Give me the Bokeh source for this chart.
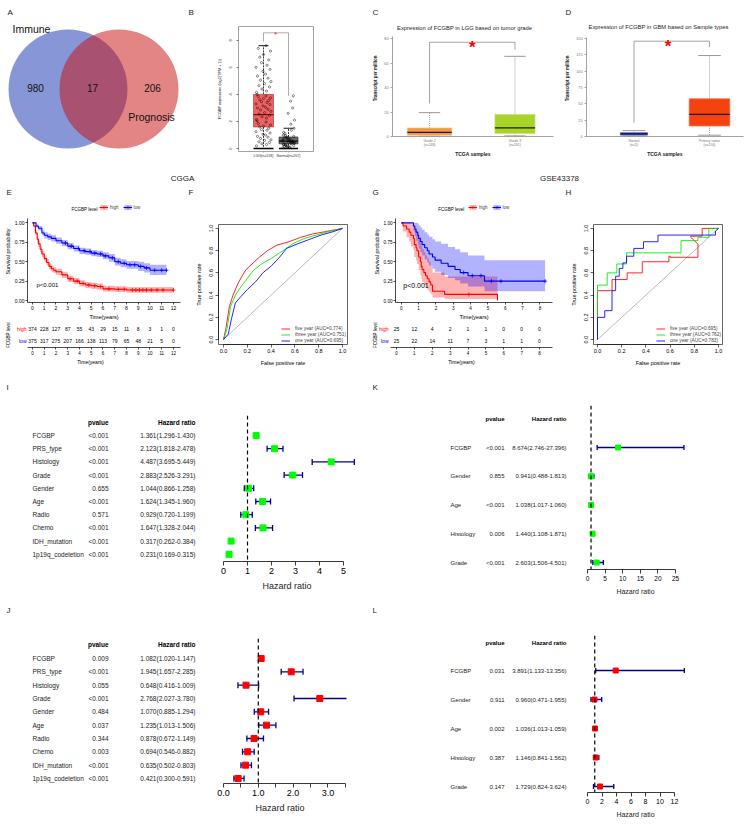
import numpy as np
from bokeh.plotting import figure
from bokeh.layouts import row, column
from bokeh.models import Range1d, Span, Legend, LegendItem, FixedTicker, NumeralTickFormatter
from bokeh.embed import file_html
from bokeh.resources import INLINE
from bokeh.core.properties import value

FONT = "Liberation Sans"
TF = value(FONT)

# ---------------- DATA ----------------
venn_names = ["Immune", "Prognosis"]
venn_counts = [980, 17, 206]

b_groups = ["LGG(n=518)", "Normal(n=207)"]
b_min = [0.0, 0.0]
b_q1 = [1.6, 0.35]
b_med = [2.5, 0.55]
b_q3 = [4.0, 0.85]
b_max = [7.6, 1.5]
b_lgg_pts = [0.2, 0.3, 0.35, 0.45, 0.5, 0.6, 0.65, 0.75, 0.85, 0.9, 1.0, 1.05, 1.15, 1.25, 1.35, 1.4,
             1.5, 1.6, 1.65, 1.75, 1.85, 1.95, 2.05, 2.15, 2.25, 2.35, 2.45, 2.55, 2.65, 2.75, 2.85,
             2.9, 3.0, 3.05, 3.15, 3.25, 3.3, 3.4, 3.45, 3.55, 3.6, 3.7, 3.75, 3.85, 3.9, 4.0, 4.15,
             4.25, 4.4, 4.55, 4.65, 4.8, 4.95, 5.05, 5.2, 5.35, 5.5, 5.7, 5.85, 6.0, 6.15, 6.35, 6.55,
             6.75, 6.95, 7.2, 7.4, 7.6]
b_norm_pts = [0.05, 0.08, 0.1, 0.12, 0.15, 0.18, 0.2, 0.22, 0.25, 0.28, 0.3, 0.32, 0.35, 0.38, 0.4,
              0.42, 0.45, 0.48, 0.5, 0.52, 0.55, 0.58, 0.6, 0.63, 0.66, 0.7, 0.74, 0.78, 0.82, 0.86,
              0.9, 0.95, 1.0, 1.1, 1.2, 1.35, 1.5, 1.8, 2.1, 2.6, 3.0, 3.5, 3.9]

c_title = "Expression of FCGBP in LGG based on tumor grade"
c_groups = ["Grade 2\n(n=248)", "Grade 3\n(n=261)"]
c_min = [0.3, 0.5]
c_q1 = [1.0, 2.5]
c_med = [3.3, 7.0]
c_q3 = [7.0, 18.0]
c_max = [19.5, 65.5]

d_title = "Expression of FCGBP in GBM based on Sample types"
d_groups = ["Normal\n(n=5)", "Primary tumor\n(n=156)"]
d_min = [0.5, 2.0]
d_q1 = [2.0, 16.0]
d_med = [4.0, 34.0]
d_q3 = [6.0, 58.0]
d_max = [9.0, 124.0]

e_high_t = [0, 0.1, 0.25, 0.4, 0.5, 0.65, 0.8, 1.0, 1.2, 1.4, 1.6, 1.8, 2.0, 2.5, 3.0, 3.5, 4.0, 4.5, 5.0, 5.5, 6.0, 7.0, 8.0, 12.0]
e_high_s = [1.0, 0.96, 0.87, 0.79, 0.73, 0.66, 0.6, 0.54, 0.49, 0.44, 0.41, 0.39, 0.37, 0.33, 0.28, 0.25, 0.22, 0.2, 0.19, 0.18, 0.15, 0.145, 0.135, 0.135]
e_high_up = [1.0, 0.98, 0.9, 0.83, 0.77, 0.7, 0.64, 0.58, 0.53, 0.48, 0.45, 0.43, 0.41, 0.37, 0.32, 0.29, 0.26, 0.24, 0.23, 0.22, 0.19, 0.185, 0.175, 0.175]
e_high_lo = [1.0, 0.94, 0.84, 0.75, 0.69, 0.62, 0.56, 0.5, 0.45, 0.4, 0.37, 0.35, 0.33, 0.29, 0.24, 0.21, 0.18, 0.16, 0.15, 0.14, 0.115, 0.11, 0.1, 0.1]
e_high_ct = [3.2, 3.8, 4.3, 4.8, 5.3, 5.8, 6.5, 7.3, 7.8, 8.5, 8.8, 9.1, 9.4, 9.7, 10.1, 10.6, 11.1, 12.0]
e_high_cs = [0.28, 0.25, 0.22, 0.2, 0.19, 0.18, 0.15, 0.145, 0.145, 0.135, 0.135, 0.135, 0.135, 0.135, 0.135, 0.135, 0.135, 0.135]
e_low_t = [0, 0.3, 0.5, 0.8, 1.0, 1.3, 1.6, 2.0, 2.5, 3.0, 3.5, 4.0, 4.5, 5.0, 5.5, 6.0, 6.5, 7.0, 7.5, 8.0, 9.0, 9.5, 10.0, 11.4]
e_low_s = [1.0, 0.96, 0.93, 0.87, 0.84, 0.82, 0.8, 0.77, 0.74, 0.7, 0.67, 0.64, 0.63, 0.61, 0.6, 0.575, 0.55, 0.5, 0.48, 0.46, 0.44, 0.42, 0.39, 0.39]
e_low_up = [1.0, 0.98, 0.96, 0.9, 0.88, 0.86, 0.84, 0.81, 0.78, 0.74, 0.71, 0.68, 0.67, 0.65, 0.64, 0.62, 0.6, 0.55, 0.53, 0.51, 0.5, 0.48, 0.46, 0.46]
e_low_lo = [1.0, 0.94, 0.9, 0.84, 0.8, 0.78, 0.76, 0.73, 0.7, 0.66, 0.63, 0.6, 0.59, 0.57, 0.56, 0.53, 0.5, 0.45, 0.43, 0.41, 0.38, 0.36, 0.33, 0.33]
e_low_ct = [2.8, 3.3, 3.9, 4.4, 4.9, 5.3, 5.8, 6.2, 6.8, 7.3, 7.8, 8.3, 8.7, 9.2, 9.7, 10.4, 11.0, 11.4]
e_low_cs = [0.74, 0.7, 0.67, 0.64, 0.63, 0.61, 0.6, 0.575, 0.55, 0.5, 0.48, 0.46, 0.46, 0.44, 0.42, 0.39, 0.39, 0.39]
e_risk_t = [0, 1, 2, 3, 4, 5, 6, 7, 8, 9, 10, 11, 12]
e_risk_high = [374, 228, 127, 87, 55, 43, 29, 15, 11, 8, 3, 1, 0]
e_risk_low = [375, 317, 275, 207, 166, 138, 113, 79, 65, 48, 21, 5, 0]

f_five_fpr = [0, 0.02, 0.05, 0.08, 0.12, 0.16, 0.19, 0.25, 0.3, 0.37, 0.45, 0.55, 0.65, 0.75, 0.85, 1.0]
f_five_tpr = [0, 0.1, 0.3, 0.4, 0.5, 0.58, 0.63, 0.69, 0.74, 0.8, 0.85, 0.88, 0.92, 0.95, 0.97, 1.0]
f_three_fpr = [0, 0.03, 0.06, 0.1, 0.15, 0.2, 0.25, 0.32, 0.4, 0.5, 0.58, 0.68, 0.78, 0.88, 1.0]
f_three_tpr = [0, 0.1, 0.3, 0.4, 0.48, 0.55, 0.62, 0.68, 0.73, 0.8, 0.86, 0.91, 0.94, 0.97, 1.0]
f_one_fpr = [0, 0.04, 0.07, 0.1, 0.14, 0.2, 0.27, 0.33, 0.4, 0.47, 0.53, 0.62, 0.72, 0.82, 0.92, 1.0]
f_one_tpr = [0, 0.05, 0.2, 0.33, 0.38, 0.45, 0.52, 0.6, 0.66, 0.74, 0.82, 0.86, 0.9, 0.94, 0.97, 1.0]
f_labels = ["five year (AUC=0.774)", "three year (AUC=0.751)", "one year (AUC=0.695)"]

g_high_t = [0, 0.1, 0.3, 0.45, 0.55, 0.7, 0.75, 0.85, 0.9, 1.0, 1.1, 1.15, 1.2, 1.3, 1.4, 1.5, 1.6, 1.7, 1.8, 2.5, 5.55]
g_high_s = [1.0, 0.96, 0.92, 0.88, 0.84, 0.8, 0.72, 0.68, 0.64, 0.56, 0.5, 0.44, 0.4, 0.36, 0.32, 0.28, 0.24, 0.2, 0.12, 0.08, 0.0]
g_high_up = [1.0, 1.0, 1.0, 1.0, 0.99, 0.97, 0.92, 0.89, 0.86, 0.8, 0.75, 0.7, 0.66, 0.62, 0.58, 0.54, 0.5, 0.45, 0.36, 0.31, 0.31]
g_high_lo = [1.0, 0.89, 0.81, 0.76, 0.7, 0.65, 0.56, 0.52, 0.47, 0.39, 0.33, 0.28, 0.24, 0.2, 0.17, 0.14, 0.11, 0.08, 0.04, 0.02, 0.0]
g_high_ct = [3.9]
g_high_cs = [0.08]
g_low_t = [0, 0.7, 0.78, 0.85, 0.95, 1.0, 1.1, 1.2, 1.35, 1.5, 1.6, 1.8, 1.95, 2.3, 2.7, 3.1, 3.4, 3.85, 4.8, 8.3]
g_low_s = [1.0, 0.96, 0.92, 0.88, 0.84, 0.8, 0.76, 0.72, 0.68, 0.64, 0.6, 0.56, 0.52, 0.48, 0.44, 0.4, 0.36, 0.32, 0.25, 0.25]
g_low_up = [1.0, 1.0, 1.0, 1.0, 0.99, 0.97, 0.94, 0.91, 0.88, 0.85, 0.82, 0.79, 0.76, 0.73, 0.69, 0.66, 0.62, 0.58, 0.52, 0.52]
g_low_lo = [1.0, 0.89, 0.83, 0.77, 0.72, 0.67, 0.62, 0.58, 0.53, 0.49, 0.45, 0.41, 0.37, 0.33, 0.29, 0.26, 0.22, 0.18, 0.12, 0.12]
g_low_ct = [3.6, 4.1, 4.6, 5.2, 5.75, 8.3]
g_low_cs = [0.36, 0.32, 0.32, 0.25, 0.25, 0.25]
g_risk_t = [0, 1, 2, 3, 4, 5, 6, 7, 8]
g_risk_high = [25, 12, 4, 2, 1, 1, 0, 0, 0]
g_risk_low = [25, 22, 14, 11, 7, 3, 1, 1, 0]

h_five_fpr = [0, 0, 0.12, 0.12, 0.245, 0.245, 0.37, 0.37, 0.59, 0.59, 0.6, 0.6, 0.83, 0.83, 0.77, 0.77, 0.865, 0.865, 1.0]
h_five_tpr = [0, 0.44, 0.44, 0.54, 0.54, 0.6, 0.6, 0.7, 0.7, 0.75, 0.75, 0.74, 0.74, 0.86, 0.92, 0.93, 0.93, 1.0, 1.0]
h_three_fpr = [0, 0, 0.08, 0.08, 0.16, 0.16, 0.24, 0.24, 0.69, 0.69, 0.83, 0.83, 0.92, 0.92, 1.0]
h_three_tpr = [0, 0.49, 0.49, 0.6, 0.6, 0.68, 0.68, 0.78, 0.78, 0.89, 0.89, 0.92, 0.92, 1.0, 1.0]
h_one_fpr = [0, 0, 0.06, 0.06, 0.12, 0.12, 0.15, 0.15, 0.18, 0.18, 0.21, 0.21, 0.24, 0.24, 0.30, 0.30, 0.38, 0.38, 0.50, 0.50, 0.975, 0.975, 1.0]
h_one_tpr = [0, 0.2, 0.2, 0.26, 0.26, 0.44, 0.44, 0.57, 0.57, 0.64, 0.64, 0.69, 0.69, 0.75, 0.75, 0.82, 0.82, 0.88, 0.88, 0.94, 0.94, 0.976, 1.0]
h_labels = ["five year (AUC=0.695)", "three year (AUC=0.762)", "one year (AUC=0.783)"]

cgga_vars = ["FCGBP", "PRS_type", "Histology", "Grade", "Gender", "Age", "Radio", "Chemo", "IDH_mutation", "1p19q_codeletion"]
i_p = ["<0.001", "<0.001", "<0.001", "<0.001", "0.655", "<0.001", "0.571", "<0.001", "<0.001", "<0.001"]
i_hr = [1.361, 2.123, 4.487, 2.883, 1.044, 1.624, 0.929, 1.647, 0.317, 0.231]
i_lo = [1.296, 1.818, 3.695, 2.526, 0.866, 1.345, 0.720, 1.328, 0.262, 0.169]
i_hi = [1.430, 2.478, 5.449, 3.291, 1.258, 1.960, 1.199, 2.044, 0.384, 0.315]
j_p = ["0.009", "<0.001", "0.055", "<0.001", "0.484", "0.037", "0.344", "0.003", "<0.001", "<0.001"]
j_hr = [1.082, 1.945, 0.648, 2.768, 1.070, 1.235, 0.878, 0.694, 0.635, 0.421]
j_lo = [1.020, 1.657, 0.416, 2.027, 0.885, 1.013, 0.672, 0.546, 0.502, 0.300]
j_hi = [1.147, 2.285, 1.009, 3.780, 1.294, 1.506, 1.149, 0.882, 0.803, 0.591]

gse_vars = ["FCGBP", "Gender", "Age", "Histology", "Grade"]
k_p = ["<0.001", "0.855", "<0.001", "0.006", "<0.001"]
k_hr = [8.674, 0.941, 1.038, 1.440, 2.603]
k_lo = [2.746, 0.488, 1.017, 1.108, 1.506]
k_hi = [27.396, 1.813, 1.060, 1.871, 4.501]
l_p = ["0.031", "0.911", "0.002", "0.387", "0.147"]
l_hr = [3.891, 0.960, 1.036, 1.146, 1.729]
l_lo = [1.133, 0.471, 1.013, 0.841, 0.824]
l_hi = [13.356, 1.955, 1.059, 1.562, 3.624]


# ---------------- HELPERS ----------------
class Cell:
    """A figure occupying a page rectangle (page pixel coordinates)."""
    def __init__(self, x0, y0, w, h, l, r, t, b, xr, yr, xaxis=None, yaxis=None):
        self.x0, self.y0, self.w, self.h = x0, y0, w, h
        self.l, self.r, self.t, self.b = l, r, t, b
        self.xr = xr if isinstance(xr, Range1d) else Range1d(start=xr[0], end=xr[1])
        self.yr = yr if isinstance(yr, Range1d) else Range1d(start=yr[0], end=yr[1])
        p = figure(width=w, height=h, x_range=self.xr, y_range=self.yr, title=None,
                   output_backend="svg", toolbar_location=None,
                   min_border_left=l, min_border_right=r, min_border_top=t, min_border_bottom=b,
                   x_axis_location=xaxis, y_axis_location=yaxis)
        p.outline_line_color = None
        p.grid.visible = False
        p.background_fill_color = "white"
        p.border_fill_color = "white"
        self.p = p

    def data(self, X, Y):
        fl = self.x0 + self.l
        fr = self.x0 + self.w - self.r
        ft = self.y0 + self.t
        fb = self.y0 + self.h - self.b
        xs, xe = self.xr.start, self.xr.end
        ys, ye = self.yr.start, self.yr.end
        return xs + (X - fl) / (fr - fl) * (xe - xs), ys + (fb - Y) / (fb - ft) * (ye - ys)

    def text(self, texts, XY, size, color="black", align="left", base="middle", style="normal", angle=0.0):
        xs, ys = [], []
        for X, Y in XY:
            x, y = self.data(X, Y)
            xs.append(x)
            ys.append(y)
        self.p.text(x=xs, y=ys, text=texts, text_font=TF, text_font_size=f"{size}px", text_color=color,
                    text_align=align, text_baseline=base, text_font_style=style, angle=angle)


def W(c):
    return column(c.p)


def axstyle(ax, size, color="black", line="black", tick_out=3, standoff=2, label=None, lsize=6,
            lstandoff=3, lstyle="normal", lcolor="black", lw=0.8):
    ax.major_label_text_font = FONT
    ax.major_label_text_font_size = f"{size}px"
    ax.major_label_text_color = color
    ax.axis_line_color = line
    ax.axis_line_width = lw
    ax.major_tick_line_color = line
    ax.major_tick_line_width = lw
    ax.major_tick_out = tick_out
    ax.major_tick_in = 0
    ax.minor_tick_line_color = None
    ax.major_label_standoff = standoff
    if label is not None:
        ax.axis_label = label
        ax.axis_label_text_font = FONT
        ax.axis_label_text_font_size = f"{lsize}px"
        ax.axis_label_text_font_style = lstyle
        ax.axis_label_text_color = lcolor
        ax.axis_label_standoff = lstandoff


def gepia_box(p, xs, mn, q1, med, q3, mx, widths, fills, lines, cap_w, whisk_col, whisk_dash, med_col):
    p.segment(x0=xs, y0=q3, x1=xs, y1=mx, line_color=whisk_col, line_dash=whisk_dash, line_width=0.8)
    p.segment(x0=xs, y0=q1, x1=xs, y1=mn, line_color=whisk_col, line_dash=whisk_dash, line_width=0.8)
    p.segment(x0=[x - cap_w / 2 for x in xs], y0=mx, x1=[x + cap_w / 2 for x in xs], y1=mx,
              line_color=whisk_col, line_width=0.9)
    p.segment(x0=[x - cap_w / 2 for x in xs], y0=mn, x1=[x + cap_w / 2 for x in xs], y1=mn,
              line_color=whisk_col, line_width=0.9)
    p.vbar(x=xs, bottom=q1, top=q3, width=widths, fill_color=fills, line_color=lines, line_width=0.7)
    p.segment(x0=[x - w / 2 for x, w in zip(xs, widths)], y0=med,
              x1=[x + w / 2 for x, w in zip(xs, widths)], y1=med, line_color=med_col, line_width=1.3)


# ---------------- HEADER 1 ----------------
H1 = Cell(0, 0, 750, 20, 0, 0, 0, 0, (0, 750), (20, 0))
H1.text(["A", "B", "C", "D"], [(7, 12), (188, 12), (372, 12), (565, 12)], 8, color="#222222")

# ---------------- ROW 1 ----------------
A = Cell(0, 20, 190, 140, 0, 0, 0, 0, (0, 190), (160, 20))
pA = A.p
pA.circle(x=[67.5], y=[88.5], radius=59.5, fill_color="#0f2dad", fill_alpha=0.5, line_color=None)
pA.circle(x=[118.5], y=[88.5], radius=59.5, fill_color="#c90b0b", fill_alpha=0.5, line_color=None)
pA.text(x=[35, 92, 152], y=[87, 87, 87], text=[str(v) for v in venn_counts], text_font=TF,
        text_font_size="10px", text_align="center", text_baseline="middle", text_color="#111111")
A.text([venn_names[0]], [(12, 28)], 10.5, color="#111111")
A.text([venn_names[1]], [(151, 116)], 10.5, color="#111111", align="center")

# B
B = Cell(190, 20, 180, 140, 48, 57, 6, 7, (0, 3), (-0.218, 9.018), xaxis="below", yaxis="left")
pB = B.p
pB.outline_line_color = "#8c8c8c"
pB.outline_line_width = 0.8
gepia_box(pB, [1, 2], b_min, b_q1, b_med, b_q3, b_max, [0.8, 0.76], ["#f06262", "#6a6a6a"],
          ["#b33c3c", "#333333"], 0.4, "black", "2 1", ["#7a1010", "#111111"])
pB.segment(x0=[0.6, 1.62], y0=b_min, x1=[1.4, 2.38], y1=b_min, line_color="black", line_width=1.4)
JIT = [-0.28, 0.12, -0.06, 0.24, -0.18, 0.04, 0.3, -0.12, 0.18, -0.24, 0.08, -0.02, 0.26, -0.3,
       0.14, -0.08, 0.21, -0.15, 0.0, 0.28, -0.21, 0.1, -0.26]
pB.scatter(x=[1 + JIT[i % len(JIT)] for i in range(len(b_lgg_pts))], y=b_lgg_pts, marker="circle",
           size=2.2, fill_alpha=0, line_color="black", line_width=0.45)
pB.scatter(x=[2 + 0.8 * JIT[(i * 5) % len(JIT)] for i in range(len(b_norm_pts))], y=b_norm_pts,
           marker="circle", size=2.2, fill_alpha=0, line_color="black", line_width=0.45)
pB.line(x=[1, 1, 2, 2], y=[7.9, 8.55, 8.55, 3.9], line_color="#777777", line_width=0.6)
pB.text(x=[1.48], y=[8.55], text=["*"], text_font=TF, text_font_size="7px", text_color="red",
        text_align="center", text_baseline="middle", y_offset=2)
axb = pB.xaxis[0]
axb.ticker = FixedTicker(ticks=[1, 2])
axb.major_label_overrides = {1: b_groups[0], 2: b_groups[1]}
axstyle(axb, 3.6, color="#333333", line="#8c8c8c", tick_out=1, standoff=1)
axb.axis_line_color = None
ayb = pB.yaxis[0]
ayb.ticker = FixedTicker(ticks=[0, 2, 4, 6, 8])
ayb.major_label_orientation = "vertical"
axstyle(ayb, 4, color="#333333", line="#555555", tick_out=2, standoff=4,
        label="FCGBP expression (log2(TPM + 1))", lsize=3.8, lstandoff=5)
ayb.axis_line_color = None

# C
C = Cell(370, 20, 185, 140, 20, 2, 0, 18, (0.5665, 2.4509), (0, 94.76), xaxis="below", yaxis="left")
pC = C.p
gepia_box(pC, [1, 2], c_min, c_q1, c_med, c_q3, c_max, [0.52, 0.47], ["#f39a3c", "#a8d42a"],
          ["#f6bd80", "#c6e27a"], 0.25, "#8c8c8c", "1 1", ["#1a1a1a", "#1a1a1a"])
pC.line(x=[1, 1, 2, 2], y=[27, 77, 77, 71], line_color="#8c8c8c", line_width=0.8)
pC.text(x=[1.5], y=[77], text=["*"], text_font=TF, text_font_size="17px", text_font_style="bold",
        text_color="red", text_align="center", text_baseline="middle", y_offset=5)
C.text([c_title], [(463, 28)], 5.8, color="#222222", align="center")
axc = pC.xaxis[0]
axc.ticker = FixedTicker(ticks=[1, 2])
axc.major_label_overrides = {1: c_groups[0], 2: c_groups[1]}
axstyle(axc, 3.4, color="#777777", line="#8c8c8c", tick_out=0, standoff=2,
        label="TCGA samples", lsize=5, lstandoff=1, lstyle="bold", lcolor="#222222")
ayc = pC.yaxis[0]
ayc.ticker = FixedTicker(ticks=[0, 20, 40, 60, 80])
ayc.bounds = (0, 82)
axstyle(ayc, 3.8, color="#777777", line="#8c8c8c", tick_out=2, standoff=2,
        label="Transcript per million", lsize=4.5, lstandoff=3, lstyle="bold", lcolor="#222222")

# D
D = Cell(555, 20, 195, 140, 31, 7, 0, 18, (0.3709, 2.4503), (0, 177.67), xaxis="below", yaxis="left")
pD = D.p
gepia_box(pD, [1, 2], d_min, d_q1, d_med, d_q3, d_max, [0.36, 0.54], ["#2a3fd8", "#f5430f"],
          ["#6f7fe6", "#f7805c"], 0.3, "#8c8c8c", "1 1", ["#1a1a1a", "#1a1a1a"])
pD.line(x=[1, 1, 2, 2], y=[21, 146, 146, 137], line_color="#8c8c8c", line_width=0.8)
pD.text(x=[1.45], y=[146], text=["*"], text_font=TF, text_font_size="17px", text_font_style="bold",
        text_color="red", text_align="center", text_baseline="middle", y_offset=5)
D.text([d_title], [(658, 27)], 5.8, color="#222222", align="center")
axd = pD.xaxis[0]
axd.ticker = FixedTicker(ticks=[1, 2])
axd.major_label_overrides = {1: d_groups[0], 2: d_groups[1]}
axstyle(axd, 3.4, color="#777777", line="#8c8c8c", tick_out=0, standoff=2,
        label="TCGA samples", lsize=5, lstandoff=1, lstyle="bold", lcolor="#222222")
ayd = pD.yaxis[0]
ayd.ticker = FixedTicker(ticks=[0, 25, 50, 75, 100, 125, 150])
ayd.bounds = (0, 152)
axstyle(ayd, 3.8, color="#777777", line="#8c8c8c", tick_out=2, standoff=2,
        label="Transcript per million", lsize=4.5, lstandoff=3, lstyle="bold", lcolor="#222222")

# ---------------- HEADER 2 ----------------
H2 = Cell(0, 160, 750, 40, 0, 0, 0, 0, (0, 750), (200, 160))
H2.text(["CGGA", "GSE43378"], [(182, 178), (559, 178)], 8, color="#222222", align="center")
H2.text(["E", "F", "G", "H"], [(6, 192), (188, 192), (372, 192), (565, 192)], 8, color="#222222")


# ---------------- ROW 2 ----------------
def km(c, curves, leg_xy, title_xy, pval_xy, pval_size, xticks, tsize):
    p = c.p
    items = []
    for t, s, up, lo, ct, cs, col, name in curves:
        band = p.varea_step(x=t, y1=lo, y2=up, step_mode="after", fill_color=col, fill_alpha=0.3)
        line = p.step(x=t, y=s, mode="after", line_color=col, line_width=1.1)
        cens = p.scatter(x=ct, y=cs, marker="cross", size=4, line_color=col, line_width=0.8)
        items.append(LegendItem(label=name, renderers=[band, line, cens]))
    fl = c.x0 + c.l
    fb = c.y0 + c.h - c.b
    leg = Legend(items=items, orientation="horizontal", location=(leg_xy[0] - fl, fb - leg_xy[1]),
                 label_text_font=FONT, label_text_font_size="4.5px", glyph_width=9, glyph_height=6,
                 label_standoff=2, spacing=4, padding=1, margin=0, border_line_color=None,
                 background_fill_alpha=0, label_height=6, label_width=8)
    p.add_layout(leg)
    c.text(["FCGBP level"], [title_xy], 4.5, align="right")
    c.text(["p<0.001"], [pval_xy], pval_size)
    ax = p.xaxis[0]
    ax.ticker = FixedTicker(ticks=xticks)
    axstyle(ax, tsize, tick_out=2, standoff=1, label="Time(years)", lsize=5.5, lstandoff=1, lw=0.7)
    ay = p.yaxis[0]
    ay.ticker = FixedTicker(ticks=[0, 0.25, 0.5, 0.75, 1.0])
    ay.formatter = NumeralTickFormatter(format="0.00")
    ay.bounds = (c.yr.start, 1.05)
    axstyle(ay, tsize, tick_out=2, standoff=1, label="Survival probability", lsize=5.5, lstandoff=1, lw=0.7)


def risk(c, times, high, low, hx, tx, xticks, bounds):
    p = c.p
    n = len(times)
    p.text(x=times, y=[0] * n, text=[str(v) for v in high], text_font=TF, text_font_size="5px",
           text_align="center", text_baseline="middle")
    p.text(x=times, y=[1] * n, text=[str(v) for v in low], text_font=TF, text_font_size="5px",
           text_align="center", text_baseline="middle")
    x0, _ = c.data(hx, 0)
    p.text(x=[x0, x0], y=[0, 1], text=["high", "low"], text_font=TF, text_font_size="5px",
           text_align="right", text_baseline="middle", text_color=["#ff0000", "#0000ff"])
    ax = p.xaxis[0]
    ax.ticker = FixedTicker(ticks=xticks)
    ax.bounds = bounds
    axstyle(ax, 4.5, tick_out=2, standoff=1, label="Time(years)", lsize=5, lstandoff=1, lw=0.7)
    fb = c.y0 + c.h - c.b
    ft = c.y0 + c.t
    c.text(["FCGBP level"], [(tx, (fb + ft) / 2)], 4.5, align="center", angle=np.pi / 2)


E = Cell(0, 200, 185, 122, 27, 5, 0, 17, (-0.4255, 12.596), (-0.025, 1.2875), xaxis="below", yaxis="left")
km(E, [(e_high_t, e_high_s, e_high_up, e_high_lo, e_high_ct, e_high_cs, "#ff0000", "high"),
       (e_low_t, e_low_s, e_low_up, e_low_lo, e_low_ct, e_low_cs, "#0000ff", "low")],
   (99, 213), (97, 209), (36, 287), 6, list(range(13)), 5)
Er = Cell(0, 322, 185, 46, 0, 5, 0, 21, (-2.7234, 12.596), (1.6, -0.6), xaxis="below", yaxis=None)
risk(Er, e_risk_t, e_risk_high, e_risk_low, 26, 8, list(range(13)), (-0.4255, 12.596))


def roc(c, curves, labels):
    p = c.p
    p.outline_line_color = "black"
    p.outline_line_width = 0.6
    p.line(x=[0, 1], y=[0, 1], line_color="#8a8a8a", line_width=0.6)
    items = []
    for (fx, ty, col), lab in zip(curves, labels):
        r = p.line(x=fx, y=ty, line_color=col, line_width=1, line_alpha=0.85)
        items.append(LegendItem(label=lab, renderers=[r]))
    leg = Legend(items=items, location="bottom_right", label_text_font=FONT, label_text_font_size="4.8px",
                 glyph_width=9, glyph_height=5, label_standoff=5, spacing=1, padding=2, margin=1,
                 border_line_color=None, background_fill_alpha=0, label_height=5)
    p.add_layout(leg)
    ax = p.xaxis[0]
    ax.ticker = FixedTicker(ticks=[0, 0.2, 0.4, 0.6, 0.8, 1.0])
    ax.formatter = NumeralTickFormatter(format="0.0")
    ax.bounds = (0, 1)
    axstyle(ax, 5.5, tick_out=3, standoff=1, label="False positive rate", lsize=5.5, lstandoff=4, lw=0.6)
    ay = p.yaxis[0]
    ay.ticker = FixedTicker(ticks=[0, 0.2, 0.4, 0.6, 0.8, 1.0])
    ay.formatter = NumeralTickFormatter(format="0.0")
    ay.bounds = (0, 1)
    ay.major_label_orientation = "vertical"
    axstyle(ay, 5.5, tick_out=3, standoff=2, label="True positive rate", lsize=5.5, lstandoff=5, lw=0.6)


F = Cell(185, 200, 185, 168, 33, 23, 24, 21, (-0.042, 1.042), (-0.044, 1.035), xaxis="below", yaxis="left")
roc(F, [(f_five_fpr, f_five_tpr, "#ff0000"), (f_three_fpr, f_three_tpr, "#00e600"),
        (f_one_fpr, f_one_tpr, "#0000ff")], f_labels)

G = Cell(370, 200, 185, 122, 20, 3, 0, 17, (-0.3357, 8.727), (-0.025, 1.2875), xaxis="below", yaxis="left")
km(G, [(g_high_t, g_high_s, g_high_up, g_high_lo, g_high_ct, g_high_cs, "#ff0000", "high"),
       (g_low_t, g_low_s, g_low_up, g_low_lo, g_low_ct, g_low_cs, "#0000ff", "low")],
   (463, 213), (461, 209), (398, 287), 7, list(range(9)), 4.6)
Gr = Cell(370, 322, 185, 46, 0, 3, 0, 21, (-1.4545, 8.727), (1.6, -0.6), xaxis="below", yaxis=None)
risk(Gr, g_risk_t, g_risk_high, g_risk_low, 388, 375, list(range(9)), (-0.3357, 8.727))

H = Cell(555, 200, 195, 168, 38, 28, 24, 21, (-0.033, 1.033), (-0.044, 1.035), xaxis="below", yaxis="left")
roc(H, [(h_five_fpr, h_five_tpr, "#ff0000"), (h_three_fpr, h_three_tpr, "#00e600"),
        (h_one_fpr, h_one_tpr, "#0000ff")], h_labels)


# ---------------- FORESTS ----------------
def forest(x0, y0, wt, wp, h, t, b, lp, rp, row0, dy, names, pv, hr, lo, hi, col, xr, ticks, bounds,
           tsize, lsize, letter, LX, LY, nx, px, hx, hy, fsize, sq, cap, fmt=None, overrides=None):
    fb = y0 + h - b
    T = Cell(x0, y0, wt, h, 0, 0, 0, 0, (x0, x0 + wt), ((y0 + h - row0) / dy, (y0 - row0) / dy))
    P = Cell(x0 + wt, y0, wp, h, lp, rp, t, b, xr, ((fb - row0) / dy, (y0 + t - row0) / dy), xaxis="below")
    n = len(names)
    idx = list(range(n))
    tp = T.p
    tp.text(x=[nx] * n, y=idx, text=names, text_font=TF, text_font_size=f"{fsize}px",
            text_align="left", text_baseline="middle", text_color="#222222")
    tp.text(x=[px] * n, y=idx, text=pv, text_font=TF, text_font_size=f"{fsize}px",
            text_align="right", text_baseline="middle", text_color="#222222")
    tp.text(x=[hx] * n, y=idx, text=[f"{a:.3f}({l_:.3f}-{u:.3f})" for a, l_, u in zip(hr, lo, hi)],
            text_font=TF, text_font_size=f"{fsize}px", text_align="right", text_baseline="middle",
            text_color="#222222")
    hrow = (hy - row0) / dy
    tp.text(x=[px, hx], y=[hrow, hrow], text=["pvalue", "Hazard ratio"], text_font=TF,
            text_font_size=f"{fsize}px", text_font_style="bold", text_align="right", text_baseline="middle")
    tp.text(x=[LX], y=[(LY - row0) / dy], text=[letter], text_font=TF, text_font_size="8px",
            text_align="left", text_baseline="middle", text_color="#222222")
    pp = P.p
    pp.add_layout(Span(location=1, dimension="height", line_color="black", line_dash="4 3", line_width=1.2))
    pp.segment(x0=lo, y0=idx, x1=hi, y1=idx, line_color="#00008b", line_width=1.3)
    pp.scatter(x=lo, y=idx, marker="dash", angle=np.pi / 2, size=cap, line_color="#00008b", line_width=1.3)
    pp.scatter(x=hi, y=idx, marker="dash", angle=np.pi / 2, size=cap, line_color="#00008b", line_width=1.3)
    pp.scatter(x=hr, y=idx, marker="square", size=sq, fill_color=col, line_color=col)
    ax = pp.xaxis[0]
    ax.ticker = FixedTicker(ticks=ticks)
    ax.bounds = bounds
    if fmt:
        ax.formatter = NumeralTickFormatter(format=fmt)
    if overrides:
        ax.major_label_overrides = overrides
    axstyle(ax, tsize, line="#222222", tick_out=4, standoff=2, label="Hazard ratio", lsize=lsize,
            lstandoff=4, lcolor="#222222", lw=0.9)
    return T, P


It, Ip = forest(0, 368, 208, 164, 232, 47, 39, 5, 12, 435, 13.2, cgga_vars, i_p, i_hr, i_lo, i_hi,
                "#00ff00", (-0.4167, 5.708), [0, 1, 2, 3, 4, 5], (0, 5), 9, 9, "I", 6, 387,
                32, 108, 195, 422, 6.5, 6, 6)
Kt, Kp = forest(372, 368, 208, 170, 232, 37, 31, 0, 60, 447, 28.75, gse_vars, k_p, k_hr, k_lo, k_hi,
                "#00ff00", (-1.989, 29.26), [0, 5, 10, 15, 20, 25], (0, 25), 6.5, 7, "K", 372, 387,
                450, 504, 566, 418, 6, 5, 5)
Jt, Jp = forest(0, 600, 208, 164, 224, 38, 41, 5, 26, 658, 13.33, cgga_vars, j_p, j_hr, j_lo, j_hi,
                "#ff0000", (-0.287, 3.534), [0, 0.5, 1, 1.5, 2, 2.5, 3, 3.5], (0, 3.5), 9, 9, "J", 6, 610,
                32, 108, 195, 644, 6.5, 6, 6, fmt="0.0",
                overrides={0.5: "", 1.5: "", 2.5: "", 3.5: ""})
Lt, Lp = forest(372, 600, 208, 170, 224, 35, 32, 0, 60, 670, 29, gse_vars, l_p, l_hr, l_lo, l_hi,
                "#ff0000", (-0.966, 14.207), [0, 2, 4, 6, 8, 10, 12], (0, 12), 7, 7, "L", 372, 610,
                450, 504, 566, 642, 6, 5, 5)

layout = column(
    W(H1),
    row(W(A), W(B), W(C), W(D)),
    W(H2),
    row(column(W(E), W(Er)), W(F), column(W(G), W(Gr)), W(H)),
    row(W(It), W(Ip), W(Kt), W(Kp)),
    row(W(Jt), W(Jp), W(Lt), W(Lp)),
)

open("out.html", "w").write(file_html(layout, INLINE))
